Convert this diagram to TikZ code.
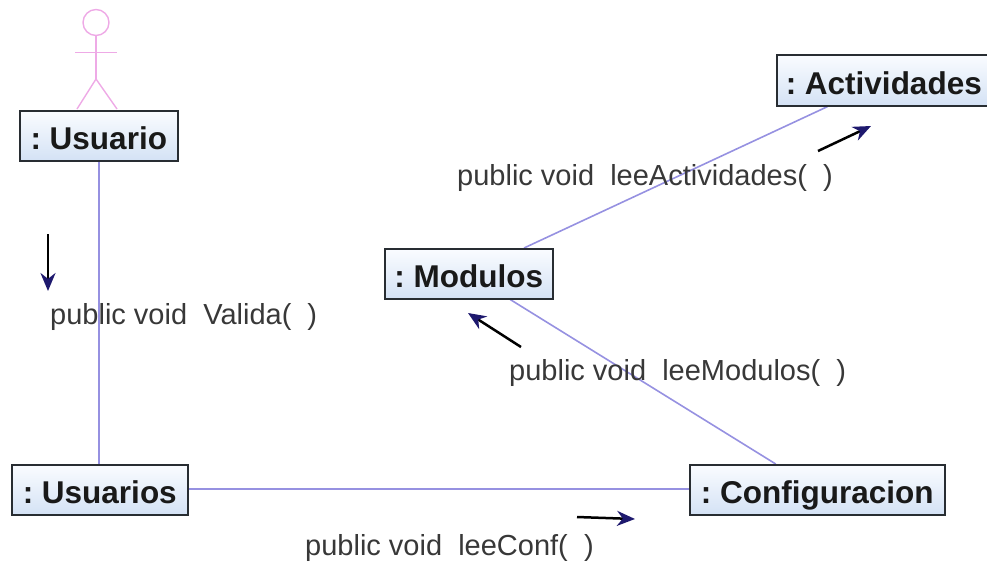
\documentclass[tikz,border=0pt]{standalone}
\usepackage{fontspec}
\setmainfont{Liberation Sans}
\usetikzlibrary{arrows.meta,backgrounds}
\definecolor{linkc}{RGB}{150,145,225}
\definecolor{actorc}{RGB}{238,170,230}
\definecolor{boxtop}{RGB}{250,252,255}
\definecolor{boxbot}{RGB}{212,226,245}
\definecolor{boxline}{RGB}{40,45,50}
\definecolor{tipc}{RGB}{30,25,110}
\newcommand{\objname}[1]{:\hspace{-3pt} #1}
\tikzset{
  objbox/.style={draw=boxline,line width=1.6pt,top color=boxtop,bottom color=boxbot,inner sep=0pt,anchor=north west,
    minimum height=50pt,text height=28pt,text depth=0pt,
    font=\fontsize{31.5}{34}\selectfont\bfseries,text=black!90},
  link/.style={draw=linkc,line width=1.6pt},
  actorline/.style={draw=actorc,line width=1.4pt},
  msgarrow/.style={draw=black,line width=2.5pt,-{Stealth[length=18pt,width=15pt,color=tipc]}},
  msglabel/.style={font=\fontsize{29}{32}\selectfont,text=black!78,anchor=west,inner sep=0pt},
}
\begin{document}
\begin{tikzpicture}[x=1pt,y=-1pt]
\useasboundingbox (0,0) rectangle (987,566);
\node[objbox,minimum width=158pt] (usuario) at (19,110) {\objname{Usuario}};
\node[objbox,minimum width=176pt] (usuarios) at (11,464) {\objname{Usuarios}};
\node[objbox,minimum width=168pt] (modulos) at (384,248) {\objname{Modulos}};
\node[objbox,minimum width=214pt,minimum height=51pt] (actividades) at (776,54) {\objname{Actividades}};
\node[objbox,minimum width=255pt] (configuracion) at (689,464) {\objname{Configuracion}};
% links
\begin{scope}[on background layer]
\draw[link] (usuario) -- (usuario |- usuarios.north);
\draw[link] ([yshift=1pt]usuarios.east) -- ([yshift=1pt]configuracion.west);
\draw[link] (modulos) -- (configuracion);
\draw[link] (modulos) -- (actividades);
\end{scope}
% actor
\draw[actorline] (96,22.5) circle (13);
\draw[actorline] (96,35.5) -- (96,79);
\draw[actorline] (75,52.5) -- (117,52.5);
\draw[actorline] (77,109) -- (96,79) -- (117,109);
% message arrows
\coordinate (a1s) at (48,234); \coordinate (a1e) at (48,291);
\coordinate (a2s) at (521,347); \coordinate (a2e) at (468,313);
\coordinate (a3s) at (818,151); \coordinate (a3e) at (871,126);
\coordinate (a4s) at (577,517); \coordinate (a4e) at (635,519);
\draw[msgarrow] (a1s) -- (a1e);
\draw[msgarrow] (a2s) -- (a2e);
\draw[msgarrow] (a3s) -- (a3e);
\draw[msgarrow] (a4s) -- (a4e);
% labels
\node[msglabel] (m1) at (50,317) {public void\ \ Valida(\ \ )};
\node[msglabel] (m2) at (509,373) {public void\ \ leeModulos(\ \ )};
\node[msglabel] (m3) at (457,178) {public void\ \ leeActividades(\ \ )};
\node[msglabel] (m4) at (305,548) {public void\ \ leeConf(\ \ )};
\end{tikzpicture}
\end{document}
